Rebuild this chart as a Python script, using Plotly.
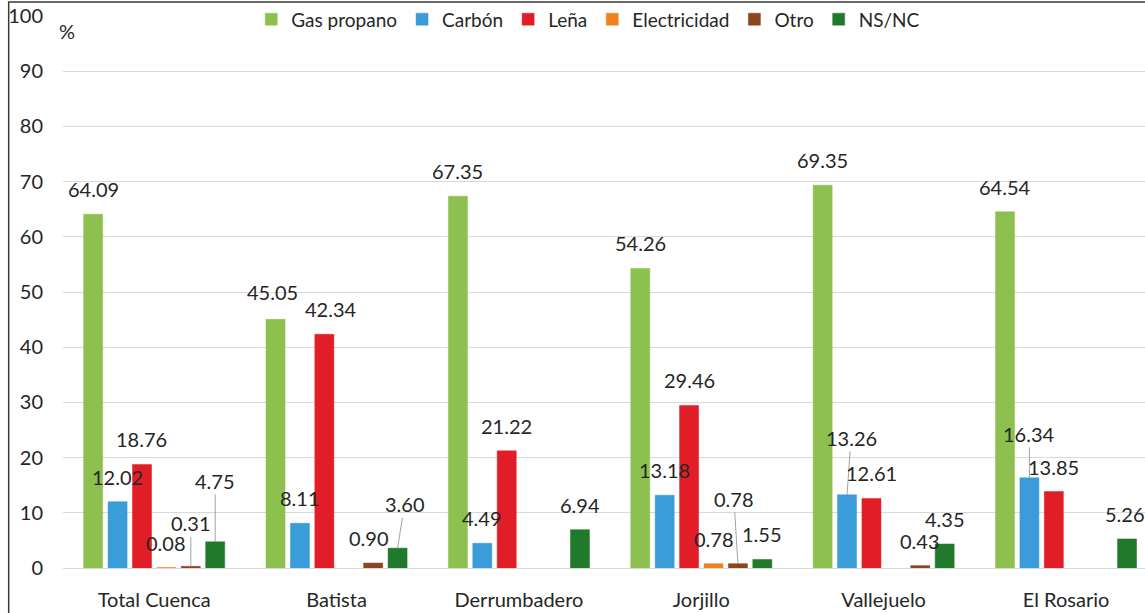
import plotly.graph_objects as go

categories = ["Total Cuenca", "Batista", "Derrumbadero", "Jorjillo", "Vallejuelo", "El Rosario"]
series_names = ["Gas propano", "Carbón", "Leña", "Electricidad", "Otro", "NS/NC"]

gas_propano = [64.09, 45.05, 67.35, 54.26, 69.35, 64.54]
carbon = [12.02, 8.11, 4.49, 13.18, 13.26, 16.34]
lena = [18.76, 42.34, 21.22, 29.46, 12.61, 13.85]
electricidad = [0.08, None, None, 0.78, None, None]
otro = [0.31, 0.90, None, 0.78, 0.43, None]
ns_nc = [4.75, 3.60, 6.94, 1.55, 4.35, 5.26]

y_ticks = [0, 10, 20, 30, 40, 50, 60, 70, 80, 90, 100]

series_values = [gas_propano, carbon, lena, electricidad, otro, ns_nc]
colors = ["#8DC04F", "#3A9DDA", "#E11E27", "#F0821E", "#8A4521", "#217A2B"]

FONT = "Lato"
TXT = "#262626"

BARGAP = 0.197
BARGROUPGAP = 0.22

# label placement tweaks: (category index, series index) -> (dx px, dy px, leader line)
label_style = {
    (0, 4): (0, -43, True),
    (0, 5): (0, -61, True),
    (1, 0): (-3, -27, False),
    (1, 2): (7, -25, False),
    (1, 4): (-4, -25, False),
    (1, 5): (7, -44, True),
    (3, 4): (-4, -65, True),
    (4, 1): (4, -57, True),
    (5, 1): (0, -44, True),
    (5, 5): (-2, -25, False),
}

fig = go.Figure()
for name, vals, col in zip(series_names, series_values, colors):
    fig.add_trace(go.Bar(
        name=name, x=categories, y=vals,
        marker=dict(color=col, line=dict(color=col, width=0.5)),
        hoverinfo="x+y+name",
    ))

n = len(series_names)
slot = (1 - BARGAP) / n
annotations = []
for si, vals in enumerate(series_values):
    off = -(1 - BARGAP) / 2 + (si + 0.5) * slot
    for ci, v in enumerate(vals):
        if v is None:
            continue
        dx, dy, leader = label_style.get((ci, si), (0, -25, False))
        txt = f"{v:.2f}"
        if leader:
            annotations.append(dict(
                x=ci + off, y=v, xref="x", yref="y", text=txt,
                showarrow=True, ax=dx, ay=dy, arrowhead=0, arrowwidth=0.8,
                arrowcolor="#8c8c8c", standoff=0,
                font=dict(family=FONT, size=20, color=TXT),
            ))
        else:
            annotations.append(dict(
                x=ci + off, y=v, xref="x", yref="y", text=txt,
                showarrow=False, xshift=dx, yshift=-dy, yanchor="middle",
                font=dict(family=FONT, size=20, color=TXT),
            ))

annotations.append(dict(
    x=-0.5, y=97.2, xref="x", yref="y", text="%", showarrow=False,
    xanchor="left", xshift=-6, yanchor="middle",
    font=dict(family=FONT, size=20, color=TXT),
))

fig.update_layout(
    width=1145, height=613,
    margin=dict(l=63, r=0, t=14, b=45),
    paper_bgcolor="white", plot_bgcolor="white",
    barmode="group", bargap=BARGAP, bargroupgap=BARGROUPGAP,
    font=dict(family=FONT, size=20, color=TXT),
    legend=dict(
        orientation="h", x=0.174, xanchor="left", y=0.994, yanchor="middle",
        font=dict(family=FONT, size=19, color=TXT), bgcolor="rgba(0,0,0,0)",
        itemwidth=30, tracegroupgap=0,
    ),
    annotations=annotations,
    shapes=[dict(
        type="rect", xref="paper", yref="paper",
        x0=-0.0502, x1=1.3, y0=-0.5, y1=1.0255,
        line=dict(color="#3a3a3a", width=1.5), fillcolor="rgba(0,0,0,0)",
        layer="above",
    )],
)
fig.update_xaxes(
    range=[-0.5, 5.433], showgrid=False, showline=False, zeroline=False,
    ticks="", ticklabelstandoff=18, tickfont=dict(family=FONT, size=20, color=TXT),
    fixedrange=True,
)
fig.update_yaxes(
    range=[0, 100], tickvals=y_ticks, showgrid=True, gridcolor="#d9d9d9",
    gridwidth=1, zeroline=True, zerolinecolor="#d9d9d9", zerolinewidth=1,
    showline=False, ticks="", ticklabelstandoff=19,
    tickfont=dict(family=FONT, size=20, color=TXT), fixedrange=True,
)

fig.write_html(
    "out.html",
    config={"displayModeBar": False},
    post_script="document.body.style.margin='0px';document.body.style.overflow='hidden';",
)
